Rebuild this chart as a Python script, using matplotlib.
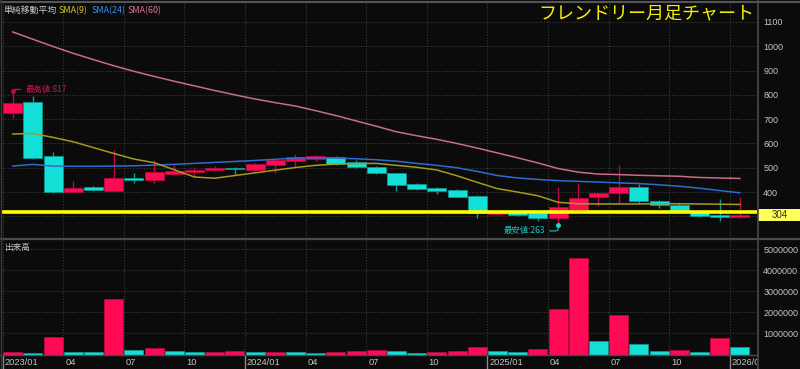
import numpy as np
import matplotlib
matplotlib.use('Agg')
import matplotlib.pyplot as plt
from matplotlib.patches import Rectangle
from matplotlib.lines import Line2D

plt.rcParams['font.family'] = ['Noto Sans CJK JP', 'DejaVu Sans']

W, H = 800, 369

# month labels (2023/01 .. 2026/01)
months = ['%d/%02d' % (2023 + k // 12, k % 12 + 1) for k in range(37)]

opens = [724, 769, 548, 401, 420, 405, 456, 449, 473, 483, 490, 500,
         490, 511, 529, 536, 545, 525, 504, 477, 432, 415, 408, 384,
         310, 318, 315, 292, 323, 378, 395, 422, 364, 346, 319, 304, 297]
highs = [817, 795, 566, 446, 426, 575, 479, 532, 511, 504, 506, 504,
         518, 534, 556, 553, 550, 530, 506, 479, 438, 419, 413, 388,
         321, 320, 320, 422, 438, 397, 511, 433, 368, 353, 321, 370, 378]
lows = [703, 536, 398, 399, 405, 404, 438, 438, 471, 460, 487, 470,
        488, 479, 504, 527, 512, 497, 474, 405, 409, 392, 378, 294,
        306, 300, 282, 263, 320, 342, 356, 353, 333, 315, 298, 283, 295]
closes = [765, 539, 400, 415, 407, 456, 450, 481, 486, 490, 500, 494,
          514, 532, 545, 548, 514, 502, 477, 429, 413, 405, 381, 312,
          318, 306, 292, 337, 374, 395, 422, 364, 345, 322, 301, 299, 304]

sma9 = [639, 641, 625, 607, 583, 559, 536, 521, 492, 462, 457, 468,
        479, 490, 501, 510, 515, 517, 518, 510, 502, 491, 467, 440,
        414, 400, 385, 358, 352, 351, 351, 351, 352, 352, 351, 350, 349]
sma24 = [507, 514, 507, 506, 506, 507, 508, 511, 514, 518, 522, 526,
         530, 535, 540, 541, 540, 537, 533, 527, 518, 510, 500, 485,
         468, 458, 452, 447, 444, 441, 438, 435, 430, 424, 416, 406, 397]
sma60 = [1059, 1029, 999, 971, 945, 920, 897, 876, 856, 837, 818, 800,
         783, 768, 754, 735, 715, 693, 671, 648, 632, 617, 600, 581,
         561, 541, 520, 497, 482, 474, 472, 469, 467, 465, 460, 458, 456]

volumes = [0.10, 0.06, 0.85, 0.10, 0.10, 2.63, 0.20, 0.31, 0.15, 0.10, 0.10, 0.15,
           0.10, 0.10, 0.10, 0.07, 0.10, 0.15, 0.20, 0.15, 0.07, 0.10, 0.19, 0.34,
           0.15, 0.10, 0.26, 2.15, 4.56, 0.64, 1.87, 0.50, 0.19, 0.22, 0.10, 0.77, 0.37]
volumes = [v * 1e6 for v in volumes]
vol_up = [1, 0, 1, 0, 0, 1, 0, 1, 0, 0, 1, 1,
          0, 1, 0, 0, 1, 1, 1, 0, 0, 1, 1, 1,
          0, 0, 1, 1, 1, 0, 1, 0, 0, 1, 0, 1, 0]

last_price = 304
price_line_level = 320
high_idx, high_val = 0, 817
low_idx, low_val = 27, 263

BG = '#0b0b0b'
UP = '#ff0a55'
UP_EDGE = '#c0083f'
DN = '#14e0d8'
DN_EDGE = '#0a9c96'
GRID = '#3a3a3a'
TXT = '#c4c4c4'
NUM_FONT = 'Liberation Sans'


def fx(px):
    return px / W


def fy(py):
    return 1 - py / H


fig = plt.figure(figsize=(W / 100, H / 100), dpi=100, facecolor=BG)

left, right = 2, 757
ax1 = fig.add_axes([fx(left), fy(238), fx(right) - fx(left), fy(3) - fy(238)])
ax2 = fig.add_axes([fx(left), fy(355), fx(right) - fx(left), fy(240) - fy(355)])
ax3 = fig.add_axes([fx(left), fy(369), fx(right) - fx(left), fy(355) - fy(369)])

n = len(opens)
x = np.arange(n)
xlim = (-0.525, 36.85)

for ax in (ax1, ax2, ax3):
    ax.set_facecolor(BG)
    ax.set_xlim(*xlim)
    for s in ax.spines.values():
        s.set_visible(False)
    ax.tick_params(length=0)

# grid
for k in range(0, n, 3):
    ax1.axvline(k - 0.5, color=GRID, lw=0.8, ls=(0, (1, 1.5)), zorder=0)
    ax2.axvline(k - 0.5, color=GRID, lw=0.8, ls=(0, (1, 1.5)), zorder=0)
for p in range(300, 1101, 100):
    ax1.axhline(p, color=GRID, lw=0.8, ls=(0, (1, 1.5)), zorder=0)
for v in range(1, 6):
    ax2.axhline(v * 1e6, color=GRID, lw=0.8, ls=(0, (1, 1.5)), zorder=0)

# candles
o = np.array(opens)
c = np.array(closes)
up = c >= o
body_lo = np.minimum(o, c)
body_h = np.maximum(np.abs(c - o), 1.5)
ax1.vlines(x[up], np.array(lows)[up], np.array(highs)[up], color=UP_EDGE, lw=1, zorder=2)
ax1.vlines(x[~up], np.array(lows)[~up], np.array(highs)[~up], color=DN_EDGE, lw=1, zorder=2)
ax1.bar(x[up], body_h[up], bottom=body_lo[up], width=0.94, color=UP, edgecolor=UP_EDGE,
        lw=0.5, zorder=3)
ax1.bar(x[~up], body_h[~up], bottom=body_lo[~up], width=0.94, color=DN, edgecolor=DN_EDGE,
        lw=0.5, zorder=3)

# moving averages
ax1.plot(x, sma60, color='#c86c8a', lw=1.1, zorder=4)
ax1.plot(x, sma24, color='#2f6cd2', lw=1.1, zorder=4)
ax1.plot(x, sma9, color='#a49a1e', lw=1.1, zorder=4)

# current price line
ax1.axhline(price_line_level, color='#ffff00', lw=2.6, zorder=5)

ax1.set_ylim(211, 1178)
ax1.yaxis.tick_right()
ax1.set_yticks(range(400, 1101, 100))
ax1.set_xticks([])
ax1.tick_params(axis='y', colors=TXT, labelsize=6.5, pad=4.5)
for lab in ax1.get_yticklabels():
    lab.set_family(NUM_FONT)

# high / low annotations
ax1.plot([high_idx], [high_val], 'o', ms=2.5, color=UP_EDGE, zorder=6)
ax1.annotate('最高値:%d' % high_val, xy=(high_idx, high_val), xytext=(9, 1),
             textcoords='offset points', ha='left', va='center', fontsize=6,
             color='#d01050',
             arrowprops=dict(arrowstyle='-', color='#d01050', lw=0.8, shrinkA=1, shrinkB=1,
                             relpos=(0, 0.5),
                             connectionstyle='angle,angleA=0,angleB=90,rad=2'))
ax1.plot([low_idx], [low_val], 'o', ms=2.5, color=DN, zorder=6)
ax1.annotate('最安値:%d' % low_val, xy=(low_idx, low_val), xytext=(-9, -4),
             textcoords='offset points', ha='right', va='center', fontsize=6,
             color='#20c4bc',
             arrowprops=dict(arrowstyle='-', color='#20c4bc', lw=0.8, shrinkA=1, shrinkB=1,
                             relpos=(1, 0.5),
                             connectionstyle='angle,angleA=0,angleB=90,rad=2'))

# volume
vu = np.array(vol_up) == 1
vol = np.array(volumes)
ax2.bar(x[vu], vol[vu], width=0.94, color=UP, edgecolor=UP_EDGE, lw=0.5, zorder=3)
ax2.bar(x[~vu], vol[~vu], width=0.94, color=DN, edgecolor=DN_EDGE, lw=0.5, zorder=3)
ax2.set_ylim(-0.02e6, 5.43e6)
ax2.yaxis.tick_right()
ax2.set_yticks([v * 1e6 for v in range(1, 6)])
ax2.set_yticklabels(['%d' % (v * 1000000) for v in range(1, 6)])
ax2.set_xticks([])
ax2.tick_params(axis='y', colors=TXT, labelsize=6.5, pad=4.5)
for lab in ax2.get_yticklabels():
    lab.set_family(NUM_FONT)

# x labels strip
ax3.set_ylim(0, 1)
ax3.set_xticks([])
ax3.set_yticks([])
for k in range(0, n, 3):
    lab = months[k] if k % 12 == 0 else months[k][-2:]
    ax3.text(k - 0.5 + 0.1, 0.45, lab, ha='left', va='center', fontsize=6.7,
             color=TXT, family=NUM_FONT, clip_on=True)
    if k % 12 == 0:
        ax3.axvline(k - 0.5, color='#8a8a8a', lw=1)

# frame lines
fig.add_artist(Line2D([0, 1], [fy(1.5), fy(1.5)], color='#555555', lw=1.5))
fig.add_artist(Line2D([0, 1], [fy(238.8), fy(238.8)], color='#4a4a4a', lw=1.6))
fig.add_artist(Line2D([0, fx(right)], [fy(355.3), fy(355.3)], color='#4a4a4a', lw=1))
fig.add_artist(Line2D([fx(right + 0.5), fx(right + 0.5)], [0, 1], color='#4a4a4a', lw=1.2))
fig.add_artist(Line2D([fx(1), fx(1)], [0, 1], color='#3a3a3a', lw=1))

# last price box
fig.add_artist(Rectangle((fx(758), fy(221)), fx(800) - fx(758), fy(209) - fy(221),
                         facecolor='#ffff5a', edgecolor='none'))
fig.text(fx(779.5), fy(215), str(last_price), ha='center', va='center', fontsize=7,
         color='#303030', family=NUM_FONT)

# legend texts
fig.text(fx(4), fy(10.5), '単純移動平均', ha='left', va='center', fontsize=6.4, color='#c8c8c8')
fig.text(fx(59), fy(10.5), 'SMA(9)', ha='left', va='center', fontsize=6.4, color='#d2c82a')
fig.text(fx(92), fy(10.5), 'SMA(24)', ha='left', va='center', fontsize=6.4, color='#3a8ee8')
fig.text(fx(128), fy(10.5), 'SMA(60)', ha='left', va='center', fontsize=6.4, color='#e07898')
fig.text(fx(4), fy(247.5), '出来高', ha='left', va='center', fontsize=6.2, color='#c8c8c8')

# title
fig.text(fx(754), fy(13.5), 'フレンドリー月足チャート', ha='right', va='center', fontsize=13,
         color='#f8f000')

fig.savefig('out.png', dpi=100, facecolor=BG)
